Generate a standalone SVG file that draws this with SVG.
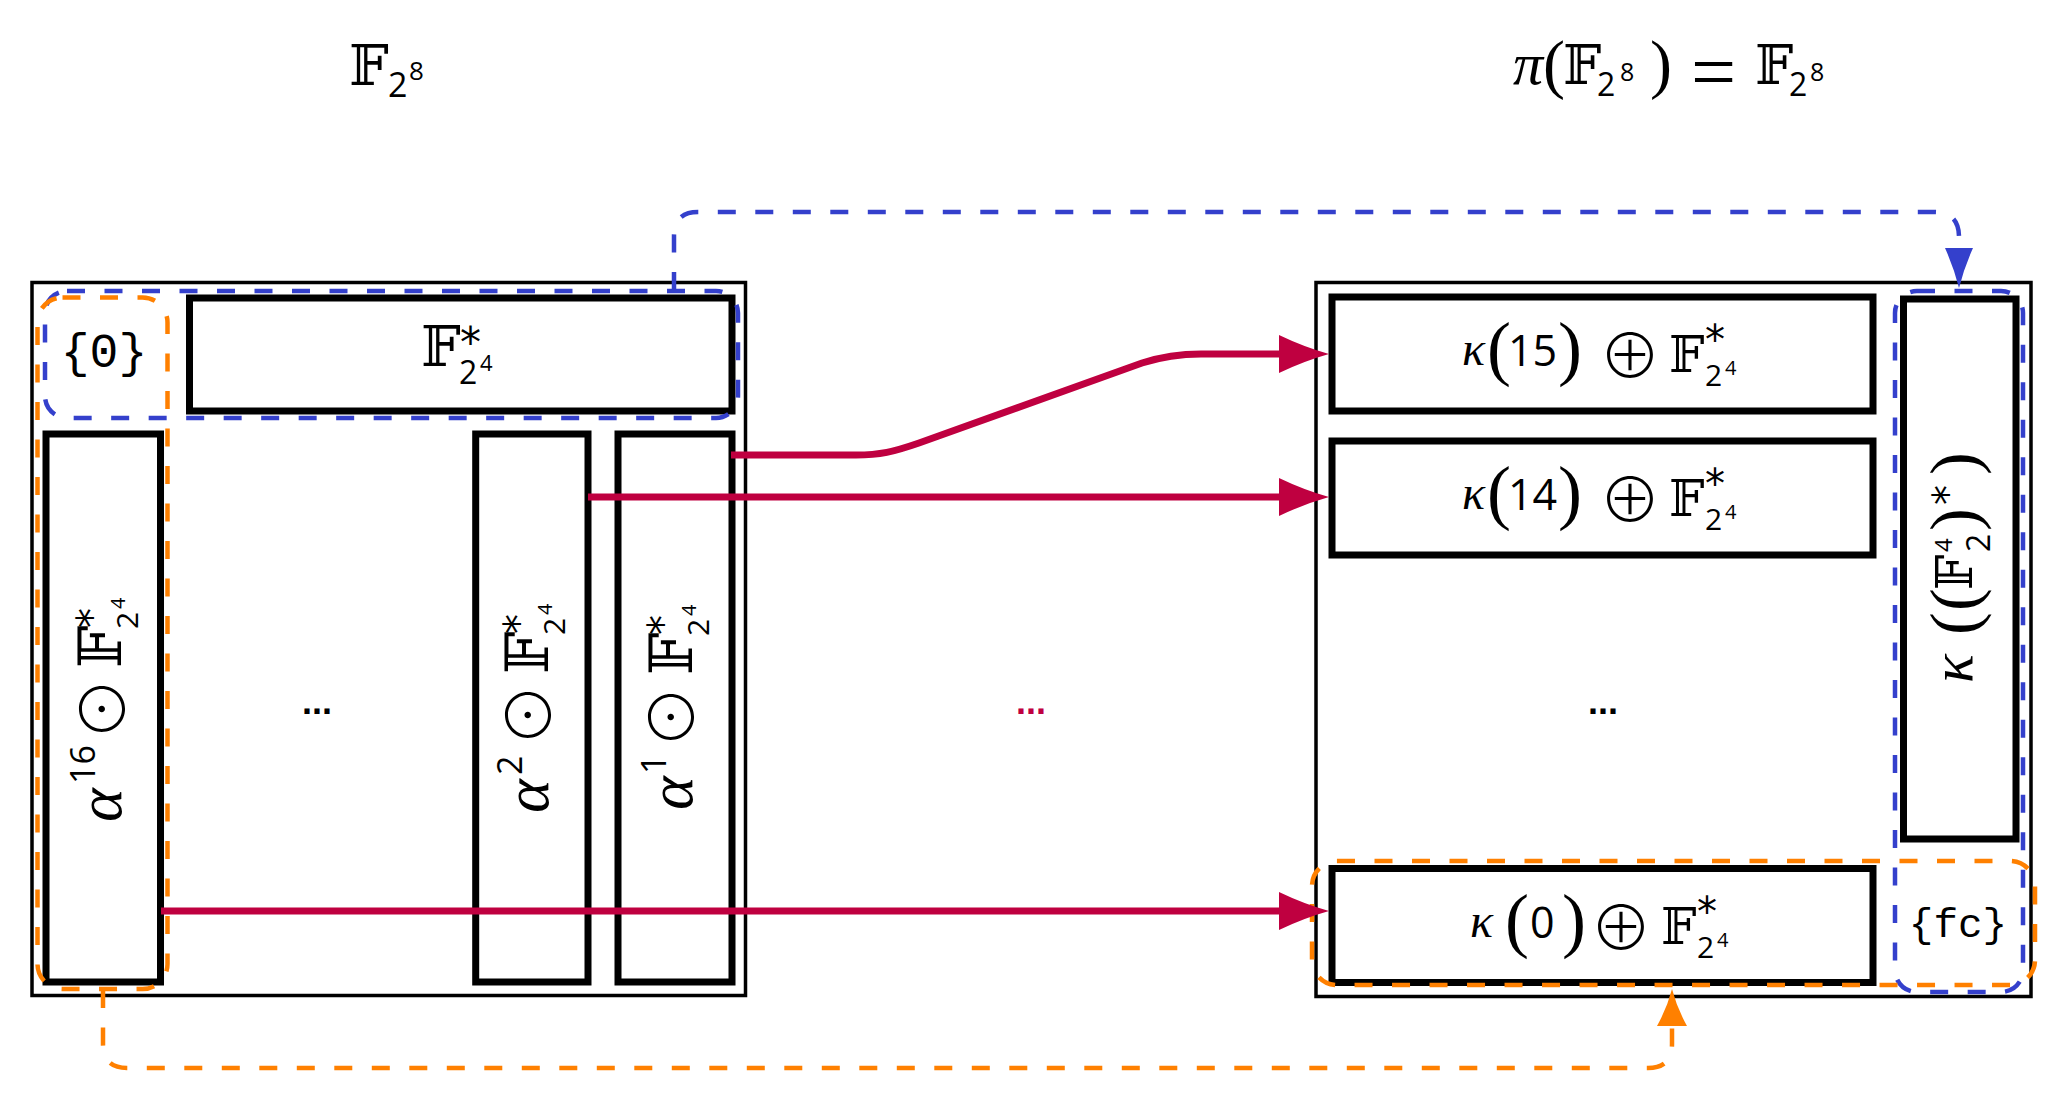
<svg xmlns="http://www.w3.org/2000/svg" width="2066" height="1110" viewBox="0 0 2066 1110">
<style>
.frame{fill:none;stroke:#000;stroke-width:3.5}
.box{fill:#fff;stroke:#000;stroke-width:7}
.bdash{fill:none;stroke:#3440cc;stroke-width:4.5;stroke-dasharray:18 19.5}
.odash{fill:none;stroke:#ff8000;stroke-width:4.5;stroke-dasharray:18 19.5}
.red{fill:none;stroke:#bf0040;stroke-width:7}
.mi{font-family:"Liberation Serif",serif;font-style:italic}
.bb{font-family:"DejaVu Serif","DejaVu Sans",sans-serif}
.dg{font-family:"Open Sans",sans-serif}
.pa{font-family:"Liberation Serif",serif}
.op{font-family:"Noto Sans CJK JP","DejaVu Sans",sans-serif;font-weight:300;text-anchor:middle}
.ast{font-family:"DejaVu Sans",sans-serif}
.tt{font-family:"Liberation Mono",monospace}
.dots{font-family:"Liberation Sans",sans-serif;font-weight:bold;font-size:36px;text-anchor:middle}
</style>
<defs>
<marker id="ar" viewBox="0 -20 50 40" markerWidth="50" markerHeight="40" refX="11" refY="0" markerUnits="userSpaceOnUse" orient="auto"><path d="M50 0Q25 -7 0 -19L0 19Q25 7 50 0Z" fill="#bf0040"/></marker>
<marker id="ab" viewBox="0 -15 40 30" markerWidth="40" markerHeight="30" refX="10" refY="0" markerUnits="userSpaceOnUse" orient="auto"><path d="M40 0Q20 -5 0 -14L0 14Q20 5 40 0Z" fill="#3440cc"/></marker>
<marker id="ao" viewBox="0 -16 37 32" markerWidth="37" markerHeight="32" refX="10" refY="0" markerUnits="userSpaceOnUse" orient="auto"><path d="M37 0Q18 -5 0 -15L0 15Q18 5 37 0Z" fill="#ff8000"/></marker>
</defs>
<rect width="2066" height="1110" fill="#fff"/>

<g id="title-left"><text><tspan class="bb" x="349" y="85" font-size="56">𝔽</tspan><tspan class="dg" x="388" y="97" font-size="34">2</tspan><tspan class="dg" x="409" y="80" font-size="26">8</tspan></text></g>
<g id="title-right"><text><tspan class="mi" x="1513" y="84" font-size="60">π</tspan><tspan class="pa" x="1543" y="86" font-size="66">(</tspan><tspan class="bb" x="1563" y="84" font-size="54">𝔽</tspan><tspan class="dg" x="1597" y="96" font-size="32">2</tspan><tspan class="dg" x="1620" y="81" font-size="25">8</tspan><tspan class="pa" x="1650" y="86" font-size="66">)</tspan><tspan class="pa" x="1691" y="99" font-size="80">=</tspan><tspan class="bb" x="1755" y="84" font-size="54">𝔽</tspan><tspan class="dg" x="1789" y="96" font-size="32">2</tspan><tspan class="dg" x="1810" y="81" font-size="25">8</tspan></text></g>

<g id="left-field"><rect class="frame" x="32" y="282.5" width="713.5" height="713"/></g>
<g id="right-field"><rect class="frame" x="1316" y="282.5" width="715" height="714"/></g>

<g id="zero"><text class="tt" x="104" y="367" font-size="48" text-anchor="middle">{0}</text></g>
<g id="fstar"><rect class="box" x="189.5" y="298" width="542.5" height="113"/><text><tspan class="bb" x="421" y="366" font-size="56">𝔽</tspan><tspan class="ast" x="460" y="357" font-size="42">*</tspan><tspan class="dg" x="459" y="384" font-size="32">2</tspan><tspan class="dg" x="480" y="371" font-size="22">4</tspan></text></g>

<g id="alpha16"><rect class="box" x="46" y="434" width="114.5" height="548"/><g transform="translate(121,822) rotate(-90)"><text><tspan class="mi" x="0" y="0" font-size="64">α</tspan><tspan class="dg" x="38" y="-26" font-size="34">16</tspan><tspan class="op" x="113" y="5" font-size="62">⊙</tspan><tspan class="bb" x="154" y="0" font-size="60">𝔽</tspan><tspan class="ast" x="194" y="-15" font-size="40">*</tspan><tspan class="dg" x="193" y="17" font-size="30">2</tspan><tspan class="dg" x="213" y="4" font-size="20">4</tspan></text></g></g>
<g id="alpha2"><rect class="box" x="475.7" y="434" width="112.3" height="548"/><g transform="translate(548,813) rotate(-90)"><text><tspan class="mi" x="0" y="0" font-size="64">α</tspan><tspan class="dg" x="38" y="-26" font-size="34">2</tspan><tspan class="op" x="98" y="4" font-size="62">⊙</tspan><tspan class="bb" x="139" y="0" font-size="60">𝔽</tspan><tspan class="ast" x="179" y="-15" font-size="40">*</tspan><tspan class="dg" x="178" y="17" font-size="30">2</tspan><tspan class="dg" x="198" y="4" font-size="20">4</tspan></text></g></g>
<g id="alpha1"><rect class="box" x="618" y="434" width="114" height="548"/><g transform="translate(692,810) rotate(-90)"><text><tspan class="mi" x="0" y="0" font-size="64">α</tspan><tspan class="dg" x="36" y="-26" font-size="34">1</tspan><tspan class="op" x="93" y="3" font-size="62">⊙</tspan><tspan class="bb" x="135" y="0" font-size="60">𝔽</tspan><tspan class="ast" x="175" y="-15" font-size="40">*</tspan><tspan class="dg" x="174" y="17" font-size="30">2</tspan><tspan class="dg" x="194" y="4" font-size="20">4</tspan></text></g></g>
<g id="dots-left"><text class="dots" x="317" y="714">...</text></g>

<g id="k15"><rect class="box" x="1332" y="297" width="541" height="114"/><text><tspan class="mi" x="1462" y="365" font-size="48">κ</tspan><tspan class="pa" x="1487" y="372" font-size="72">(</tspan><tspan class="dg" x="1508" y="366" font-size="43">15</tspan><tspan class="pa" x="1558" y="372" font-size="72">)</tspan><tspan class="op" x="1630" y="379" font-size="62">⊕</tspan><tspan class="bb" x="1669" y="372" font-size="50">𝔽</tspan><tspan class="ast" x="1705" y="354" font-size="40">*</tspan><tspan class="dg" x="1705" y="386" font-size="30">2</tspan><tspan class="dg" x="1725" y="375" font-size="20">4</tspan></text></g>
<g id="k14"><rect class="box" x="1332" y="441" width="541" height="114"/><text><tspan class="mi" x="1462" y="509" font-size="48">κ</tspan><tspan class="pa" x="1487" y="516" font-size="72">(</tspan><tspan class="dg" x="1508" y="510" font-size="43">14</tspan><tspan class="pa" x="1558" y="516" font-size="72">)</tspan><tspan class="op" x="1630" y="523" font-size="62">⊕</tspan><tspan class="bb" x="1669" y="516" font-size="50">𝔽</tspan><tspan class="ast" x="1705" y="498" font-size="40">*</tspan><tspan class="dg" x="1705" y="530" font-size="30">2</tspan><tspan class="dg" x="1725" y="519" font-size="20">4</tspan></text></g>
<g id="k0"><rect class="box" x="1332" y="868.5" width="541" height="114"/><text><tspan class="mi" x="1470" y="937" font-size="48">κ</tspan><tspan class="pa" x="1505" y="944" font-size="72">(</tspan><tspan class="dg" x="1530" y="938" font-size="43">0</tspan><tspan class="pa" x="1562" y="944" font-size="72">)</tspan><tspan class="op" x="1621" y="951" font-size="62">⊕</tspan><tspan class="bb" x="1661" y="944" font-size="50">𝔽</tspan><tspan class="ast" x="1697" y="926" font-size="40">*</tspan><tspan class="dg" x="1697" y="958" font-size="30">2</tspan><tspan class="dg" x="1717" y="947" font-size="20">4</tspan></text></g>
<g id="kstar"><rect class="box" x="1903.5" y="299" width="112.5" height="540"/><g transform="translate(1972,683) rotate(-90)"><text><tspan class="mi" x="0" y="0" font-size="60">κ</tspan><tspan class="pa" x="48" y="5" font-size="68">(</tspan><tspan class="pa" x="72" y="5" font-size="68">(</tspan><tspan class="bb" x="93" y="0" font-size="50">𝔽</tspan><tspan class="dg" x="131" y="-20" font-size="24">4</tspan><tspan class="dg" x="131" y="18" font-size="32">2</tspan><tspan class="pa" x="152" y="5" font-size="68">)</tspan><tspan class="ast" x="178" y="-10" font-size="40">*</tspan><tspan class="pa" x="208" y="5" font-size="68">)</tspan></text></g></g>
<g id="fc"><text class="tt" x="1958" y="937" font-size="41" text-anchor="middle">{fc}</text></g>
<g id="dots-right"><text class="dots" x="1603" y="714">...</text></g>

<g id="groups">
<rect class="bdash" x="45" y="291" width="693" height="127" rx="22"/>
<rect class="odash" x="37.5" y="297.5" width="130" height="691.5" rx="25"/>
<rect class="bdash" x="1895" y="291" width="128" height="701" rx="22"/>
<rect class="odash" x="1312" y="861" width="723" height="124" rx="25"/>
</g>

<g id="connectors">
<path class="red" d="M731 455L856 455C880 455 893 452 919 443L1142 363C1164 356 1180 354 1201 354L1290 354" marker-end="url(#ar)"/>
<path class="red" d="M588 497L1290 497" marker-end="url(#ar)"/>
<path class="red" d="M161 911L1290 911" marker-end="url(#ar)"/>
<text class="dots" x="1031" y="714" fill="#bf0040">...</text>
<path class="bdash" d="M674 290L674 236Q674 212 698 212L1934 212Q1959 212 1959 237L1959 258" marker-end="url(#ab)"/>
<path class="odash" d="M103 990L103 1044Q103 1068 127 1068L1648 1068Q1672 1068 1672 1044L1672 1016" marker-end="url(#ao)"/>
</g>
</svg>
